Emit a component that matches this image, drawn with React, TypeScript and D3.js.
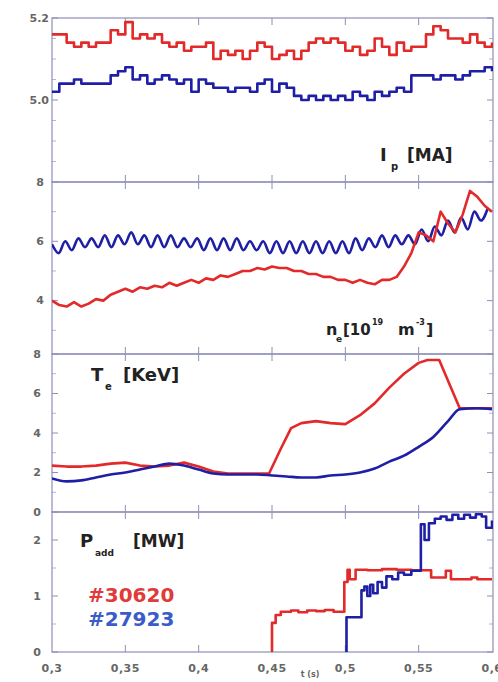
import React from "react";
import * as d3 from "d3";

const W = 498;
const H = 682;

// time axis
const xTicks = [0.3, 0.35, 0.4, 0.45, 0.5, 0.55, 0.6];
const xTickLabels = ["0,3", "0,35", "0,4", "0,45", "0,5", "0,55", "0,6"];

// plasma current Ip [MA], every 5 ms
const ipTimes = d3.range(61).map((i) => 0.3 + i * 0.005);
const ipRed = [
  5.16, 5.16, 5.14, 5.13, 5.14, 5.13, 5.14, 5.14, 5.17, 5.16,
  5.19, 5.15, 5.16, 5.15, 5.16, 5.14, 5.13, 5.14, 5.12, 5.13,
  5.13, 5.14, 5.1, 5.12, 5.11, 5.12, 5.1, 5.12, 5.14, 5.13,
  5.1, 5.11, 5.12, 5.1, 5.12, 5.14, 5.15, 5.14, 5.15, 5.14,
  5.12, 5.13, 5.11, 5.12, 5.15, 5.13, 5.11, 5.14, 5.12, 5.13,
  5.13, 5.16, 5.18, 5.17, 5.15, 5.15, 5.14, 5.16, 5.14, 5.13,
  5.14,
];
const ipBlue = [
  5.02, 5.04, 5.04, 5.05, 5.04, 5.04, 5.04, 5.04, 5.06, 5.07,
  5.08, 5.05, 5.06, 5.04, 5.05, 5.06, 5.05, 5.04, 5.05, 5.02,
  5.05, 5.04, 5.03, 5.03, 5.02, 5.03, 5.03, 5.02, 5.04, 5.05,
  5.02, 5.04, 5.03, 5.01, 5.0, 5.01, 5.0, 5.01, 5.0, 5.01,
  5.0, 5.02, 5.01, 5.0, 5.02, 5.01, 5.02, 5.03, 5.02, 5.06,
  5.06, 5.06, 5.05, 5.06, 5.06, 5.05, 5.06, 5.07, 5.07, 5.08,
  5.07,
];
const ipTickValues = [5.0, 5.2];
const ipTickLabels = ["5.0", "5.2"];
const ipMinor = [4.85, 4.9, 4.95, 5.05, 5.1, 5.15];

// density ne [1e19 m^-3]
const neRedTimes = d3.range(61).map((i) => 0.3 + i * 0.005);
const neRed = [
  4.0, 3.85, 3.8, 3.95, 3.8, 3.9, 4.05, 4.0, 4.2, 4.3,
  4.4, 4.3, 4.45, 4.4, 4.5, 4.45, 4.6, 4.5, 4.6, 4.7,
  4.6, 4.75, 4.7, 4.85, 4.8, 4.9, 5.0, 5.0, 5.1, 5.05,
  5.15, 5.1, 5.1, 5.0, 5.0, 4.9, 4.9, 4.8, 4.8, 4.7,
  4.7, 4.6, 4.7, 4.6, 4.55, 4.7, 4.7, 4.8, 5.15, 5.6,
  6.3, 6.2, 6.0, 7.0, 6.6, 6.3, 6.9, 7.7, 7.5, 7.2,
  7.0,
];
const neBlueTimes = d3.range(67).map((i) => 0.3 + i * 0.0045);
const neBlue = [
  5.9, 5.6, 6.0, 5.7, 6.1, 5.8, 6.1, 5.8, 6.2, 5.8,
  6.2, 5.9, 6.3, 5.9, 6.2, 5.8, 6.2, 5.8, 6.2, 5.8,
  6.1, 5.8, 6.1, 5.7, 6.1, 5.7, 6.1, 5.7, 6.1, 5.7,
  6.0, 5.7, 6.0, 5.6, 6.0, 5.6, 6.0, 5.6, 6.0, 5.6,
  6.0, 5.6, 6.0, 5.6, 6.0, 5.6, 6.1, 5.7, 6.1, 5.8,
  6.2, 5.8, 6.2, 5.9, 6.2, 5.9, 6.4, 6.0, 6.5, 6.2,
  6.7, 6.3, 6.8, 6.4, 7.0, 6.7, 7.1,
];
const neTickValues = [4, 6, 8];
const neTickLabels = ["4", "6", "8"];
const neMinor = [3, 5, 7];

// electron temperature Te [keV]
const teRedTimes = [
  0.3, 0.31, 0.32, 0.33, 0.34, 0.35, 0.36, 0.37, 0.38, 0.39, 0.4, 0.41, 0.42,
  0.43, 0.44, 0.448, 0.456, 0.463, 0.47, 0.48, 0.49, 0.5, 0.51, 0.52, 0.53,
  0.54, 0.55, 0.556, 0.564, 0.578, 0.59, 0.6,
];
const teRed = [
  2.35, 2.3, 2.3, 2.35, 2.45, 2.5, 2.35, 2.3, 2.35, 2.5, 2.3, 2.05, 1.95,
  1.95, 1.95, 1.95, 3.2, 4.25, 4.5, 4.6, 4.5, 4.45, 4.9, 5.5, 6.3,
  7.0, 7.55, 7.7, 7.7, 5.25, 5.25, 5.25,
];
const teBlueTimes = [
  0.3, 0.31, 0.32, 0.33, 0.34, 0.35, 0.36, 0.37, 0.38, 0.39, 0.4, 0.41, 0.42,
  0.43, 0.44, 0.45, 0.46, 0.47, 0.48, 0.49, 0.5, 0.51, 0.52, 0.53, 0.54, 0.55,
  0.56, 0.57, 0.578, 0.59, 0.6,
];
const teBlue = [
  1.7, 1.55, 1.6, 1.75, 1.9, 2.0, 2.15, 2.3, 2.45, 2.35, 2.15, 1.95, 1.9,
  1.9, 1.9, 1.85, 1.8, 1.75, 1.75, 1.85, 1.9, 2.0, 2.2, 2.55, 2.85, 3.3,
  3.8, 4.6, 5.2, 5.25, 5.2,
];
const teTickValues = [0, 2, 4, 6, 8];
const teTickLabels = ["0", "2", "4", "6", "8"];
const teMinor = [1, 3, 5, 7];

// additional power Padd [MW]
const padRedTimes = [
  0.4495, 0.45, 0.4525, 0.456, 0.463, 0.468, 0.474, 0.48, 0.486, 0.492,
  0.4993, 0.5015, 0.503, 0.507, 0.515, 0.525, 0.535, 0.545, 0.5585, 0.566,
  0.5685, 0.572, 0.58, 0.586, 0.59, 0.6,
];
const padRed = [
  0, 0.52, 0.66, 0.72, 0.74, 0.71, 0.74, 0.73, 0.75, 0.72,
  1.25, 1.47, 1.3, 1.47, 1.46, 1.48, 1.47, 1.46, 1.33, 1.33,
  1.45, 1.3, 1.3, 1.33, 1.3, 1.3,
];
const padBlueTimes = [
  0.5005, 0.5008, 0.511, 0.513, 0.515, 0.517, 0.519, 0.522, 0.525, 0.528,
  0.532, 0.536, 0.54, 0.545, 0.5515, 0.554, 0.557, 0.561, 0.565, 0.569,
  0.573, 0.577, 0.581, 0.585, 0.589, 0.593, 0.596, 0.6,
];
const padBlue = [
  0, 0.62, 1.1, 1.17, 1.0, 1.2, 1.05, 1.25, 1.15, 1.35,
  1.3, 1.42, 1.38, 1.45, 2.28, 2.0, 2.3, 2.38, 2.42, 2.36,
  2.45, 2.38, 2.45, 2.4, 2.46, 2.42, 2.22, 2.35,
];
const padTickValues = [0, 1, 2];
const padTickLabels = ["0", "1", "2"];
const padMinor = [0.5, 1.5];

const shots = ["#30620", "#27923"];

const RED = "#e22a2a";
const BLUE = "#1f1fa6";
const AXIS = "#8e8eb8";
const TICKTXT = "#666";

const x = d3.scaleLinear().domain([0.3, 0.6]).range([52, 492]);
const LEFT = 52;
const RIGHT = 493;

const zip = (ts: number[], vs: number[]) => ts.map((t, i) => [t, vs[i]] as [number, number]);

const panels = [
  {
    id: "ip", top: 18, bottom: 182, domain: [4.8, 5.2], labelX: 49,
    ticks: ipTickValues, tickLabels: ipTickLabels, minor: ipMinor,
    series: [
      { data: zip(ipTimes, ipRed), color: RED, curve: d3.curveStepAfter },
      { data: zip(ipTimes, ipBlue), color: BLUE, curve: d3.curveStepAfter },
    ],
  },
  {
    id: "ne", top: 182, bottom: 354, domain: [2.2, 8], labelX: 44,
    ticks: neTickValues, tickLabels: neTickLabels, minor: neMinor,
    series: [
      { data: zip(neBlueTimes, neBlue), color: BLUE, curve: d3.curveMonotoneX },
      { data: zip(neRedTimes, neRed), color: RED, curve: d3.curveLinear },
    ],
  },
  {
    id: "te", top: 354, bottom: 512, domain: [0, 8], labelX: 41,
    ticks: teTickValues, tickLabels: teTickLabels, minor: teMinor,
    series: [
      { data: zip(teRedTimes, teRed), color: RED, curve: d3.curveLinear },
      { data: zip(teBlueTimes, teBlue), color: BLUE, curve: d3.curveMonotoneX },
    ],
  },
  {
    id: "pad", top: 512, bottom: 652, domain: [0, 2.5], labelX: 41,
    ticks: padTickValues, tickLabels: padTickLabels, minor: padMinor,
    series: [
      { data: zip(padRedTimes, padRed), color: RED, curve: d3.curveStepAfter },
      { data: zip(padBlueTimes, padBlue), color: BLUE, curve: d3.curveStepAfter },
    ],
  },
];

const Panel = ({ p }: { p: (typeof panels)[number] }) => {
  const y = d3.scaleLinear().domain(p.domain).range([p.bottom, p.top]);
  const line = (s: (typeof p.series)[number]) =>
    d3
      .line<[number, number]>()
      .x((d) => x(d[0]))
      .y((d) => y(d[1]))
      .curve(s.curve)(s.data) || "";
  return (
    <g>
      <defs>
        <clipPath id={`clip-${p.id}`}>
          <rect x={LEFT} y={p.top} width={RIGHT - LEFT} height={p.bottom - p.top} />
        </clipPath>
      </defs>
      <rect x={LEFT} y={p.top} width={RIGHT - LEFT} height={p.bottom - p.top}
        fill="none" stroke={AXIS} strokeWidth={1.2} />
      {xTicks.slice(1, -1).map((t) => (
        <g key={t} stroke={AXIS} strokeWidth={1}>
          <line x1={x(t)} x2={x(t)} y1={p.top} y2={p.top + 7} />
          <line x1={x(t)} x2={x(t)} y1={p.bottom - 7} y2={p.bottom} />
        </g>
      ))}
      {p.ticks.map((v) => (
        <g key={v} stroke={AXIS} strokeWidth={1}>
          <line x1={LEFT} x2={LEFT + 6} y1={y(v)} y2={y(v)} />
          <line x1={RIGHT - 6} x2={RIGHT} y1={y(v)} y2={y(v)} />
        </g>
      ))}
      {p.minor.map((v) => (
        <g key={v} stroke={AXIS} strokeWidth={0.8} opacity={0.8}>
          <line x1={LEFT} x2={LEFT + 4} y1={y(v)} y2={y(v)} />
          <line x1={RIGHT - 4} x2={RIGHT} y1={y(v)} y2={y(v)} />
        </g>
      ))}
      {p.ticks.map((v, i) => (
        <text key={v} x={p.labelX} y={y(v)} dy="0.35em" textAnchor="end"
          fontFamily="DejaVu Sans" fontWeight="bold" fontSize={11} fill={TICKTXT}>
          {p.tickLabels[i]}
        </text>
      ))}
      <g clipPath={`url(#clip-${p.id})`}>
        {p.series.map((s, i) => (
          <path key={i} d={line(s)} fill="none" stroke={s.color}
            strokeWidth={2.6} strokeLinejoin="round" />
        ))}
      </g>
    </g>
  );
};

export default function App() {
  const lbl = { fontFamily: "DejaVu Sans", fontWeight: "bold", fill: "#222" } as const;
  return (
    <div style={{ position: "absolute", left: 0, top: 0 }}>
      <svg width={W} height={H} style={{ display: "block", background: "#fff" }}>
        {panels.map((p) => (
          <Panel key={p.id} p={p} />
        ))}

        {/* x tick labels */}
        {xTicks.map((t, i) => (
          <text key={t} x={x(t)} y={668} dy="0.35em" textAnchor="middle"
            fontFamily="DejaVu Sans" fontWeight="bold" fontSize={11}
            letterSpacing={0.5} fill={TICKTXT}>
            {xTickLabels[i]}
          </text>
        ))}
        <text x={310} y={677} textAnchor="middle" fontFamily="DejaVu Sans"
          fontWeight="bold" fontSize={8} fill={TICKTXT}>
          t (s)
        </text>

        {/* panel labels */}
        <text x={380} y={161} fontSize={18} {...lbl}>I</text>
        <text x={391} y={170} fontSize={10} {...lbl}>p</text>
        <text x={407} y={161} fontSize={17} {...lbl}>[MA]</text>

        <text x={326} y={335} fontSize={16} {...lbl}>n</text>
        <text x={336} y={342} fontSize={9} {...lbl}>e</text>
        <text x={343} y={335} fontSize={15} {...lbl}>[10</text>
        <text x={372} y={325} fontSize={8} {...lbl}>19</text>
        <text x={398} y={335} fontSize={16} {...lbl}>m</text>
        <text x={416} y={325} fontSize={8} {...lbl}>-3</text>
        <text x={426} y={335} fontSize={16} {...lbl}>]</text>

        <text x={91} y={381} fontSize={18} {...lbl}>T</text>
        <text x={105} y={390} fontSize={10} {...lbl}>e</text>
        <text x={123} y={381} fontSize={18} {...lbl}>[KeV]</text>

        <text x={80} y={547} fontSize={18} {...lbl}>P</text>
        <text x={95} y={556} fontSize={9} {...lbl}>add</text>
        <text x={133} y={547} fontSize={17} {...lbl}>[MW]</text>

        {/* shot legend */}
        <text x={88} y={602} fontFamily="DejaVu Sans" fontWeight="bold"
          fontSize={20} fill="#e03a3a">{shots[0]}</text>
        <text x={88} y={626} fontFamily="DejaVu Sans" fontWeight="bold"
          fontSize={20} fill="#3a5cc8">{shots[1]}</text>
      </svg>
    </div>
  );
}
